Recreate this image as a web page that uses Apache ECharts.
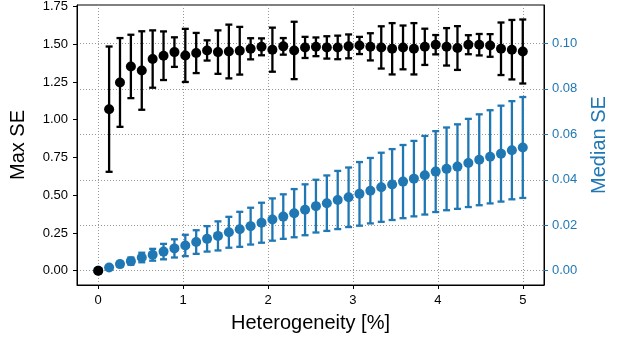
<!DOCTYPE html>
<html>
<head>
<meta charset="utf-8">
<script src="https://cdn.jsdelivr.net/npm/echarts@6/dist/echarts.min.js"></script>
<style>
html,body{margin:0;padding:0;background:#fff;}
#chart{width:622px;height:341px;}
</style>
</head>
<body>
<div id="chart"></div>
<script>
// Heterogeneity values (%)
const xValues = [0, 0.1282, 0.2564, 0.3846, 0.5128, 0.6410, 0.7692, 0.8974, 1.0256, 1.1538,
  1.2821, 1.4103, 1.5385, 1.6667, 1.7949, 1.9231, 2.0513, 2.1795, 2.3077, 2.4359,
  2.5641, 2.6923, 2.8205, 2.9487, 3.0769, 3.2051, 3.3333, 3.4615, 3.5897, 3.7179,
  3.8462, 3.9744, 4.1026, 4.2308, 4.3590, 4.4872, 4.6154, 4.7436, 4.8718, 5.0];

// Max SE (left axis)
const maxSE = [0, 1.070, 1.247, 1.353, 1.326, 1.402, 1.424, 1.448, 1.426, 1.442,
  1.459, 1.448, 1.452, 1.457, 1.470, 1.483, 1.464, 1.486, 1.459, 1.479,
  1.483, 1.479, 1.479, 1.486, 1.492, 1.483, 1.479, 1.470, 1.479, 1.470,
  1.483, 1.497, 1.483, 1.475, 1.497, 1.497, 1.492, 1.470, 1.464, 1.452];
const maxSEErr = [0, 0.415, 0.294, 0.210, 0.260, 0.190, 0.161, 0.098, 0.176, 0.133,
  0.067, 0.144, 0.178, 0.158, 0.070, 0.056, 0.146, 0.055, 0.190, 0.070,
  0.062, 0.074, 0.078, 0.079, 0.057, 0.090, 0.140, 0.170, 0.145, 0.170,
  0.120, 0.064, 0.124, 0.145, 0.063, 0.071, 0.075, 0.174, 0.197, 0.212];

// Median SE (right axis)
const medianSE = [0, 0.0014, 0.0029, 0.0042, 0.0058, 0.0070, 0.0084, 0.0098, 0.0111, 0.0126,
  0.0140, 0.0153, 0.0169, 0.0182, 0.0196, 0.0211, 0.0225, 0.0238, 0.0253, 0.0268,
  0.0284, 0.0297, 0.0311, 0.0323, 0.0338, 0.0352, 0.0367, 0.0379, 0.0392, 0.0405,
  0.0420, 0.0436, 0.0448, 0.0458, 0.0474, 0.0488, 0.0501, 0.0515, 0.0530, 0.0542];
const medianSEErr = [0, 0.0006, 0.0011, 0.0016, 0.0021, 0.0026, 0.0034, 0.0040, 0.0047, 0.0052,
  0.0056, 0.0064, 0.0068, 0.0077, 0.0081, 0.0088, 0.0093, 0.0098, 0.0106, 0.0112,
  0.0116, 0.0122, 0.0128, 0.0131, 0.0140, 0.0144, 0.0152, 0.0156, 0.0161, 0.0166,
  0.0173, 0.0178, 0.0182, 0.0186, 0.0194, 0.0200, 0.0205, 0.0211, 0.0216, 0.0222];

const xTicks = [0, 1, 2, 3, 4, 5];
const leftTicks = [0, 0.25, 0.5, 0.75, 1.0, 1.25, 1.5, 1.75];
const rightTicks = [0, 0.02, 0.04, 0.06, 0.08, 0.10];

const BLUE = '#1f77b4';
const FONT = 'Liberation Sans, Arial, Helvetica, sans-serif';

function errData(xs, m, e) {
  const out = [];
  for (let i = 0; i < xs.length; i++) {
    if (e[i] > 0) out.push([xs[i], m[i] - e[i], m[i] + e[i]]);
  }
  return out;
}
function pts(xs, m) { return xs.map((x, i) => [x, m[i]]); }

function errRender(color) {
  return function (params, api) {
    const x = api.value(0);
    const p1 = api.coord([x, api.value(1)]);
    const p2 = api.coord([x, api.value(2)]);
    const hw = 3.5;
    const style = { stroke: color, lineWidth: 2.3, fill: null };
    return {
      type: 'group',
      children: [
        { type: 'line', shape: { x1: p1[0], y1: p1[1], x2: p2[0], y2: p2[1] }, style: style },
        { type: 'line', shape: { x1: p1[0] - hw, y1: p1[1], x2: p1[0] + hw, y2: p1[1] }, style: style },
        { type: 'line', shape: { x1: p2[0] - hw, y1: p2[1], x2: p2[0] + hw, y2: p2[1] }, style: style }
      ]
    };
  };
}

const chart = echarts.init(document.getElementById('chart'), null, { renderer: 'canvas' });
chart.setOption({
  animation: false,
  backgroundColor: '#fff',
  textStyle: { fontFamily: FONT },
  grid: { left: 77, right: 78, top: 5, bottom: 56, show: true, borderColor: '#000', borderWidth: 1, backgroundColor: 'transparent' },
  xAxis: {
    type: 'value', min: -0.25, max: 5.25,
    name: 'Heterogeneity [%]', nameLocation: 'middle', nameGap: 28,
    nameTextStyle: { fontSize: 20, color: '#000', fontFamily: FONT },
    axisLine: { show: true, onZero: false, lineStyle: { color: '#000', width: 1 } },
    axisTick: { show: true, customValues: xTicks, length: 4, lineStyle: { color: '#000' } },
    axisLabel: { customValues: xTicks, formatter: v => String(v), fontSize: 13, color: '#000', margin: 9, fontFamily: FONT },
    splitLine: { show: true, lineStyle: { type: [1, 2], color: '#999', width: 1 } }
  },
  yAxis: [
    {
      type: 'value', min: -0.0948, max: 1.76, position: 'left',
      name: 'Max SE', nameLocation: 'middle', nameGap: 49,
      nameTextStyle: { fontSize: 20, color: '#000', fontFamily: FONT },
      axisLine: { show: true, onZero: false, lineStyle: { color: '#000', width: 1 } },
      axisTick: { show: true, customValues: leftTicks, length: 4, lineStyle: { color: '#000' } },
      axisLabel: { customValues: leftTicks, formatter: v => v.toFixed(2), fontSize: 13, color: '#000', margin: 9, fontFamily: FONT },
      splitLine: { show: false }
    },
    {
      type: 'value', min: -0.0063, max: 0.1169, position: 'right',
      name: 'Median SE', nameLocation: 'middle', nameGap: 45,
      nameTextStyle: { fontSize: 20, color: BLUE, fontFamily: FONT },
      axisLine: { show: true, onZero: false, lineStyle: { color: '#000', width: 1 } },
      axisTick: { show: true, customValues: rightTicks, length: 4, lineStyle: { color: BLUE } },
      axisLabel: { customValues: rightTicks, formatter: v => v.toFixed(2), fontSize: 13, color: BLUE, margin: 8, fontFamily: FONT },
      splitLine: { show: true, lineStyle: { type: [1, 2], color: '#999', width: 1 } }
    }
  ],
  series: [
    {
      type: 'custom', yAxisIndex: 1, z: 2, silent: true,
      renderItem: errRender(BLUE),
      encode: { x: 0, y: [1, 2] },
      data: errData(xValues, medianSE, medianSEErr)
    },
    {
      type: 'scatter', yAxisIndex: 1, z: 3, symbol: 'circle', symbolSize: 10,
      itemStyle: { color: BLUE, opacity: 1 },
      data: pts(xValues, medianSE)
    },
    {
      type: 'custom', yAxisIndex: 0, z: 4, silent: true,
      renderItem: errRender('#000'),
      encode: { x: 0, y: [1, 2] },
      data: errData(xValues, maxSE, maxSEErr)
    },
    {
      type: 'scatter', yAxisIndex: 0, z: 5, symbol: 'circle', symbolSize: 10,
      itemStyle: { color: '#000', opacity: 1 },
      data: pts(xValues, maxSE)
    }
  ]
});
</script>
</body>
</html>
